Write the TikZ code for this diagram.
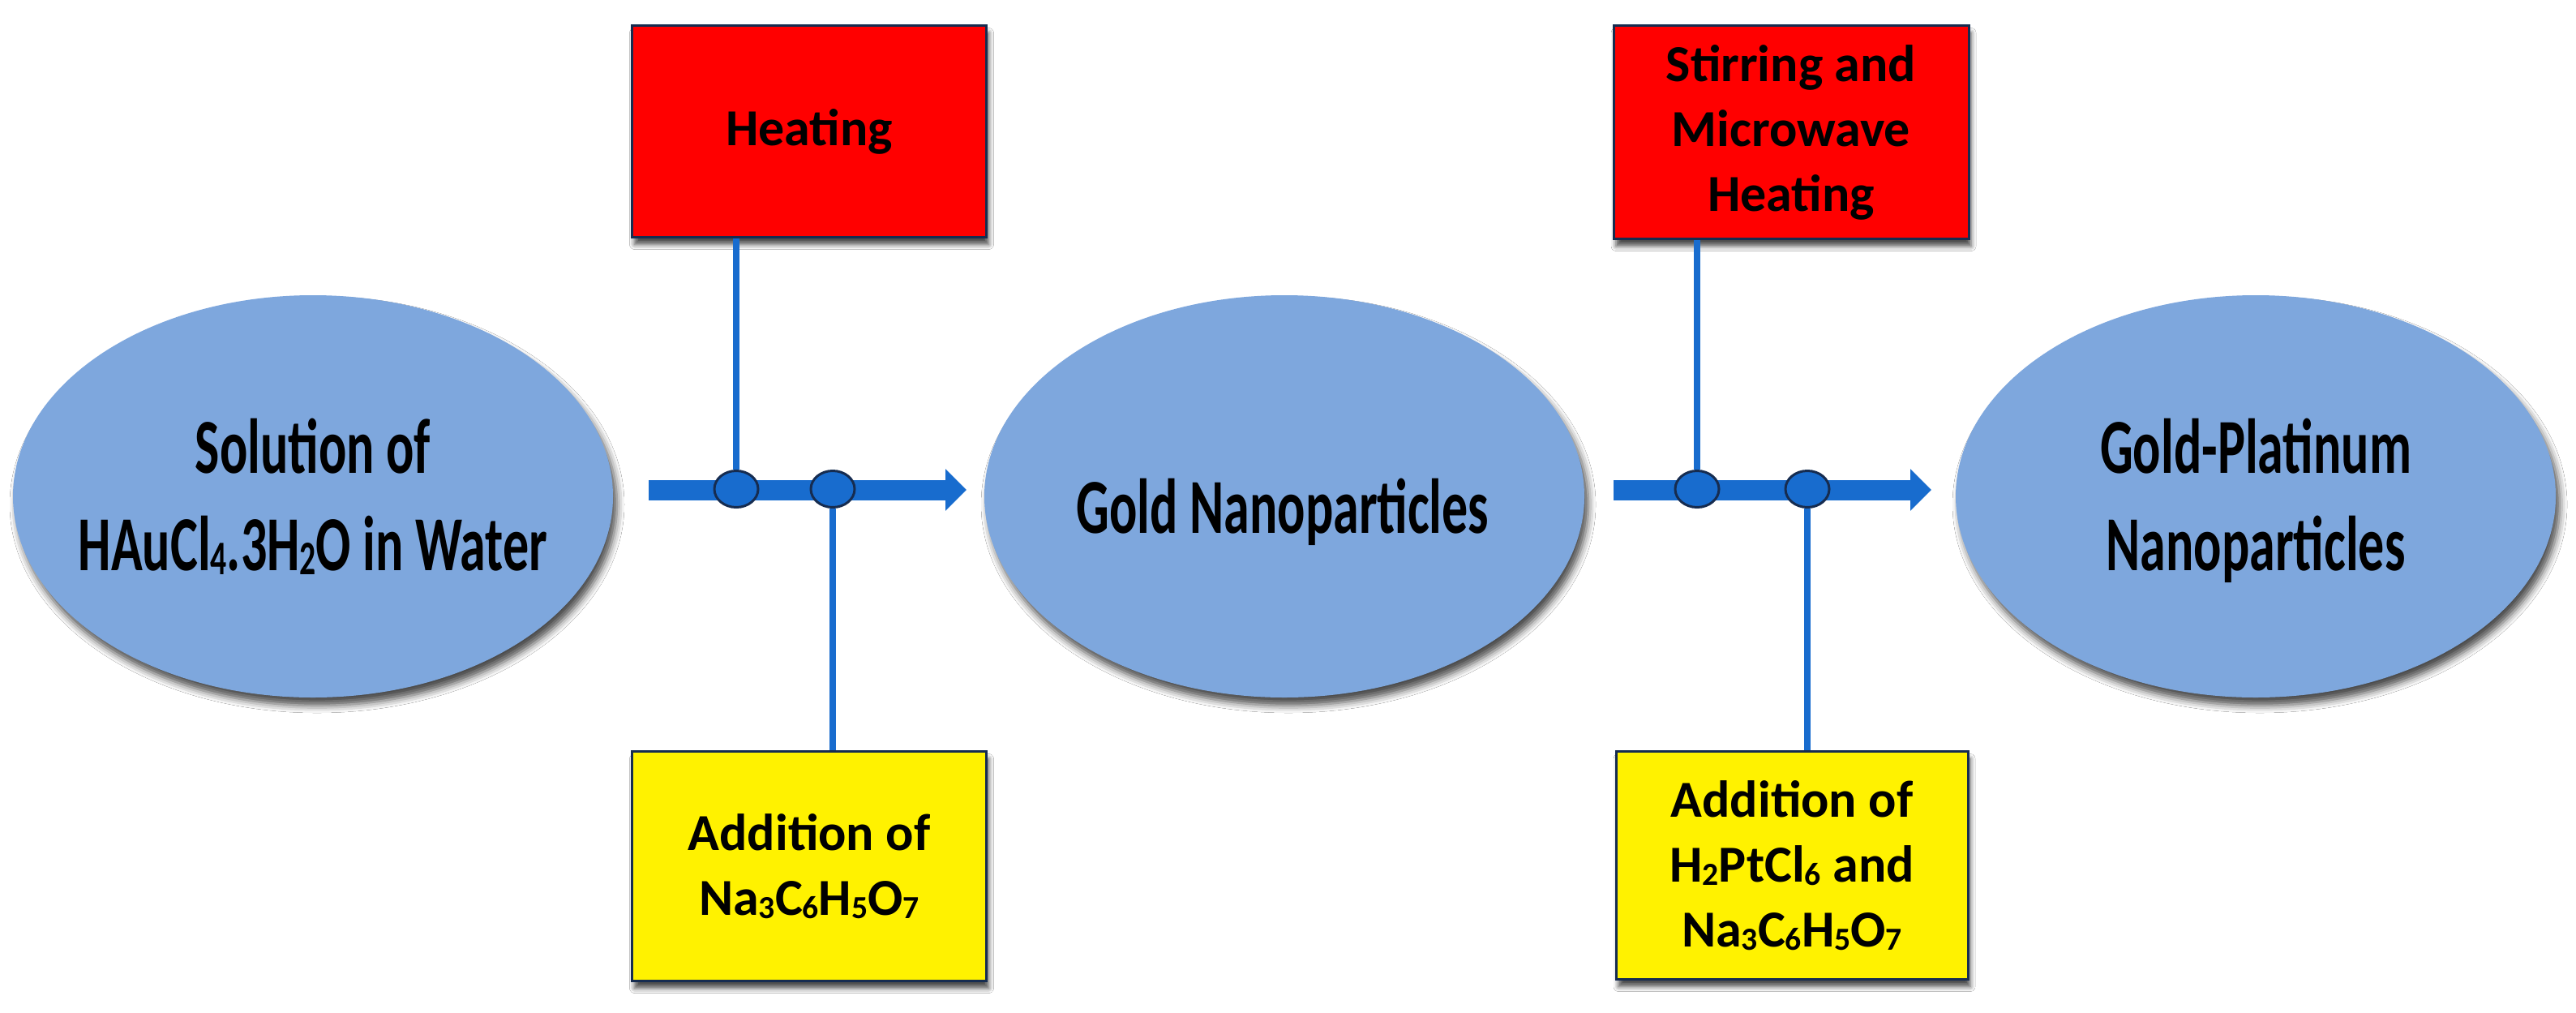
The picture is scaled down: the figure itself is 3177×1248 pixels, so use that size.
\documentclass[tikz,border=0pt]{standalone}
\usepackage{fontspec}
\setmainfont{Carlito}
\usepackage{graphicx}
\usetikzlibrary{shapes.geometric,arrows.meta,shadows.blur}
\definecolor{ellblue}{RGB}{126,167,221}
\definecolor{arrblue}{RGB}{24,108,206}
\definecolor{navy}{RGB}{22,44,80}
\newcommand{\sbs}[1]{\raisebox{-0.06em}{\scalebox{0.62}{#1}}}
\newcommand{\tall}[1]{\scalebox{1}[1.5]{\begin{tabular}{@{}c@{}}#1\end{tabular}}}
\begin{document}
\begin{tikzpicture}[x=1pt,y=-1pt,
  txt/.style={font=\fontsize{64}{80}\selectfont\bfseries, align=center, text=black, inner sep=0pt},
  bigell/.style={ellipse, fill=ellblue, minimum width=740pt, minimum height=496pt, inner sep=0pt,
    blur shadow={shadow xshift=5pt, shadow yshift=-10pt, shadow blur radius=9pt, shadow opacity=70}},
  procbox/.style={rectangle, draw=navy, line width=3pt, inner sep=0pt, txt,
    blur shadow={shadow xshift=3pt, shadow yshift=-9pt, shadow blur radius=6pt, shadow opacity=70}},
  redbox/.style={procbox, fill=red},
  yelbox/.style={procbox, fill=yellow},
  flow/.style={draw=arrblue, line width=25pt, -{Triangle[length=26pt,width=50pt]}},
  joint/.style={ellipse, fill=arrblue, draw=navy, line width=3pt, minimum width=54pt, minimum height=45pt, inner sep=0pt},
  vline/.style={draw=arrblue, line width=8pt}
]
\useasboundingbox[fill=white] (0,0) rectangle (3177,1248);

% main ellipses
\node[bigell] (E1) at (386,612) {};
\node[bigell] (E2) at (1584,612) {};
\node[bigell] (E3) at (2782,612) {};
\node[txt] (T1) at (386,619) {\tall{Solution of\\HAuCl\sbs{4}.3H\sbs{2}O in Water}};
\node[txt] (T2) at (1582,633) {\tall{Gold Nanoparticles}};
\node[txt] (T3) at (2782,619) {\tall{Gold-Platinum\\Nanoparticles}};

% process boxes
\node[redbox, minimum width=437pt, minimum height=261pt] (R1) at (998,162) {Heating};
\node[yelbox, minimum width=437pt, minimum height=283pt] (Y1) at (998,1068) {Addition of\\Na\sbs{3}C\sbs{6}H\sbs{5}O\sbs{7}};
\node[redbox, minimum width=438pt, minimum height=263pt] (R2) at (2209,163) {Stirring and\\Microwave\\Heating};
\node[yelbox, minimum width=434pt, minimum height=281pt] (Y2) at (2210,1067) {Addition of\\H\sbs{2}PtCl\sbs{6} and\\Na\sbs{3}C\sbs{6}H\sbs{5}O\sbs{7}};

% flow arrows
\coordinate (a1s) at (800,604);
\coordinate (a1e) at (1192,604);
\coordinate (a2s) at (1990,604);
\coordinate (a2e) at (2382,604);
\draw[flow] (a1s) -- (a1e);
\draw[flow] (a2s) -- (a2e);

% joints
\node[joint] (J1) at (908,603) {};
\node[joint] (J2) at (1027,603) {};
\node[joint] (J3) at (2093,603) {};
\node[joint] (J4) at (2229,603) {};

% vertical connectors
\draw[vline] (J1 |- R1.south) -- (J1.north);
\draw[vline] (J2.south) -- (J2 |- Y1.north);
\draw[vline] (J3 |- R2.south) -- (J3.north);
\draw[vline] (J4.south) -- (J4 |- Y2.north);
\end{tikzpicture}
\end{document}
